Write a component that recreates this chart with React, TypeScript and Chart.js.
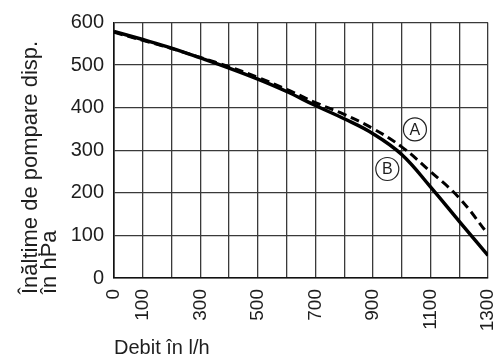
import React, { useEffect, useRef } from 'react';
import { Chart, registerables } from 'chart.js';

Chart.register(...registerables);

// ---- Data ----
const flowRates = [0, 100, 200, 300, 400, 500, 600, 700, 800, 900, 1000, 1100, 1200, 1300];
const headA = [577, 558, 539, 518, 496, 471, 443, 412, 384, 351, 308, 250, 188, 103];
const headB = [579, 560, 540, 517, 493, 467, 438, 405, 374, 339, 290, 214, 133, 53];
const xTickLabels = ['0', '100', '300', '500', '700', '900', '1100', '1300'];
const yTitleLines = ['Înălțime de pompare disp.', 'în hPa'];
const xTitle = 'Debit în l/h';
const curveNames = ['A', 'B'];
const curveNameAt = [
  [1046, 349],
  [950, 256],
];

const FONT = '"Liberation Sans", Arial, Helvetica, sans-serif';
const TEXT = '#1e1e1e';
const GRID = '#3a3a3a';

const labelsPlugin = {
  id: 'curveLabelsAndTitle',
  afterDraw(chart: any) {
    const { ctx, scales, chartArea } = chart;
    const xs = scales.x;
    const ys = scales.y;
    ctx.save();
    // circled curve names
    curveNames.forEach((name, i) => {
      const px = xs.getPixelForValue(curveNameAt[i][0]);
      const py = ys.getPixelForValue(curveNameAt[i][1]);
      ctx.beginPath();
      ctx.arc(px, py, 11.5, 0, Math.PI * 2);
      ctx.fillStyle = '#ffffff';
      ctx.fill();
      ctx.lineWidth = 1.2;
      ctx.strokeStyle = '#222';
      ctx.stroke();
      ctx.fillStyle = TEXT;
      ctx.font = `16px ${FONT}`;
      ctx.textAlign = 'center';
      ctx.textBaseline = 'middle';
      ctx.fillText(name, px, py + 1);
    });
    // y axis title (two lines, start-aligned below the axis)
    ctx.fillStyle = TEXT;
    ctx.font = `22px ${FONT}`;
    ctx.textAlign = 'left';
    ctx.textBaseline = 'alphabetic';
    const baseX = [37, 56];
    yTitleLines.forEach((line, i) => {
      ctx.save();
      ctx.translate(baseX[i], chartArea.bottom + 16);
      ctx.rotate(-Math.PI / 2);
      ctx.fillText(line, 0, 0);
      ctx.restore();
    });
    ctx.restore();
  },
};

export default function App() {
  const canvasRef = useRef<HTMLCanvasElement | null>(null);

  useEffect(() => {
    const canvas = canvasRef.current;
    if (!canvas) return;
    const chart = new Chart(canvas, {
      type: 'line',
      data: {
        datasets: [
          {
            label: 'A',
            data: flowRates.map((x, i) => ({ x, y: headA[i] })),
            borderColor: '#000',
            borderWidth: 3,
            borderDash: [9, 5],
            pointRadius: 0,
            tension: 0.4,
            fill: false,
          },
          {
            label: 'B',
            data: flowRates.map((x, i) => ({ x, y: headB[i] })),
            borderColor: '#000',
            borderWidth: 3.5,
            pointRadius: 0,
            tension: 0.4,
            fill: false,
          },
        ],
      },
      options: {
        animation: false,
        responsive: false,
        maintainAspectRatio: false,
        layout: { padding: { left: 0, right: 7, top: 22.5, bottom: 0 } },
        plugins: {
          legend: { display: false },
          tooltip: { enabled: false },
          title: { display: false },
        },
        scales: {
          x: {
            type: 'linear',
            min: 0,
            max: 1300,
            grid: { color: GRID, lineWidth: 1.3, drawTicks: false },
            border: { color: '#111', width: 1.6 },
            ticks: {
              stepSize: 100,
              autoSkip: false,
              maxRotation: 90,
              minRotation: 90,
              padding: 11,
              color: TEXT,
              font: { family: FONT, size: 19 },
              callback: (v: any) => (xTickLabels.includes(String(v)) ? String(v) : ''),
            },
            title: {
              display: true,
              text: xTitle,
              align: 'start',
              color: TEXT,
              font: { family: FONT, size: 20, lineHeight: 1 },
              padding: { top: 0, bottom: 0 },
            },
            afterFit: (s: any) => {
              s.height = 80;
              s.paddingLeft = 0;
              s.paddingRight = 0;
            },
          },
          y: {
            min: 0,
            max: 600,
            grid: { color: GRID, lineWidth: 1.3, drawTicks: false },
            border: { color: '#111', width: 1.6 },
            ticks: {
              stepSize: 100,
              padding: 10,
              color: TEXT,
              font: { family: FONT, size: 20 },
            },
            afterFit: (s: any) => {
              s.width = 114;
              s.paddingTop = 0;
              s.paddingBottom = 0;
            },
          },
        },
      },
      plugins: [labelsPlugin],
    } as any);
    return () => chart.destroy();
  }, []);

  return (
    <div style={{ position: 'fixed', left: 0, top: 0, width: 495, height: 358, background: '#fff' }}>
      <canvas ref={canvasRef} width={495} height={358} style={{ width: 495, height: 358 }} />
    </div>
  );
}
